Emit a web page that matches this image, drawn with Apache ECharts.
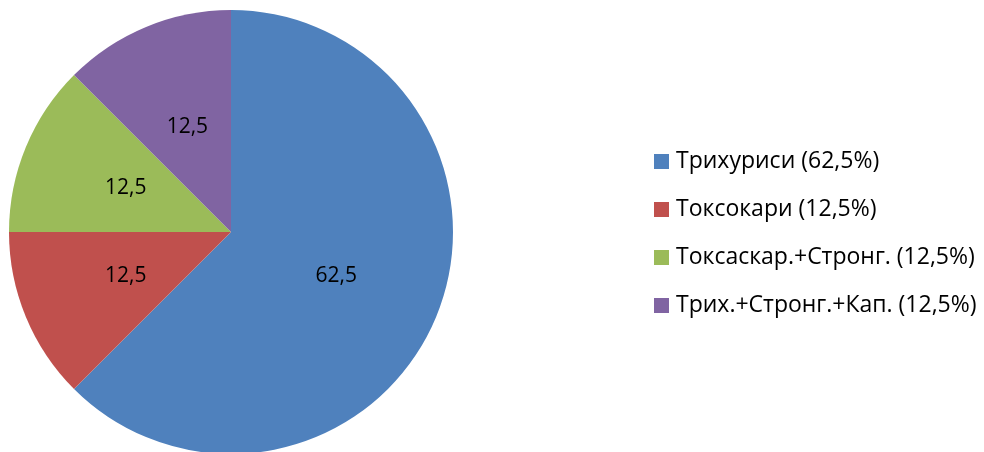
<!DOCTYPE html>
<html>
<head>
<meta charset="utf-8">
<script src="https://cdn.jsdelivr.net/npm/echarts@6/dist/echarts.min.js"></script>
<style>html,body{margin:0;padding:0;background:#fff;}#c{width:984px;height:452px;}</style>
</head>
<body>
<div id="c"></div>
<script>
const categories = ["Трихуриси", "Токсокари", "Токсаскар.+Стронг.", "Трих.+Стронг.+Кап."];
const values = [62.5, 12.5, 12.5, 12.5];
const colors = ["#4F81BD", "#C0504D", "#9BBB59", "#8064A2"];

const fmt = v => String(v).replace('.', ',');
const total = values.reduce((a, b) => a + b, 0);
const pct = {};
categories.forEach((c, i) => { pct[c] = fmt(Math.round(values[i] / total * 1000) / 10); });

const chart = echarts.init(document.getElementById('c'), null, {renderer: 'canvas'});
chart.setOption({
  animation: false,
  color: colors,
  legend: {
    orient: 'vertical',
    left: 654,
    top: 150,
    padding: 0,
    icon: 'rect',
    itemWidth: 15,
    itemHeight: 15,
    itemGap: 25,
    textStyle: {fontFamily: 'Open Sans', fontSize: 23, color: '#000', lineHeight: 20, padding: [0, 0, 0, 2]},
    formatter: name => name + ' (' + pct[name] + '%)',
    data: categories
  },
  series: [{
    type: 'pie',
    center: [231, 232],
    radius: 222,
    startAngle: 90,
    clockwise: true,
    label: {
      show: true,
      position: 'inside',
      fontFamily: 'Open Sans',
      fontSize: 21,
      color: '#000',
      formatter: p => fmt(p.value)
    },
    labelLine: {show: false},
    emphasis: {disabled: true},
    itemStyle: {borderWidth: 0},
    data: categories.map((c, i) => ({name: c, value: values[i]}))
  }]
});
</script>
</body>
</html>
